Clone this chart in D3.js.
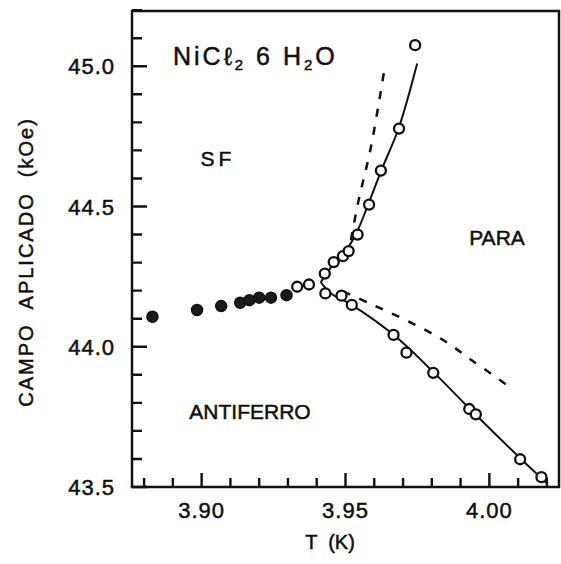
<!DOCTYPE html>
<meta charset="utf-8">
<style>
body { margin: 0; background: #fff; }
text { font-family: "Liberation Sans", Arial, sans-serif; fill: #111; stroke: #111; stroke-width: 0.5px; }
.tick-label { font-size: 22px; letter-spacing: 1px; }
.ticks { fill: none; stroke: #111; stroke-width: 2.4; }
.solid { fill: none; stroke: #111; stroke-width: 2; }
.dash { fill: none; stroke: #111; stroke-width: 2.5; stroke-dasharray: 8,10; }
.open { fill: #fff; stroke: #111; stroke-width: 2.3; }
.filled { fill: #1a1a1a; stroke: #111; stroke-width: 1.5; }
.lab { font-size: 21px; }
</style>
<body>
<svg width="561" height="564"></svg>
<script src="https://d3js.org/d3.v7.min.js"></script>
<script>

// filled points (low T, horizontal part)
var filledT = [3.8829, 3.8984, 3.9068, 3.9134, 3.9166, 3.9200, 3.9241, 3.9295];
var filledH = [44.107, 44.131, 44.145, 44.157, 44.166, 44.175, 44.175, 44.184];

// open points, SF / PARA boundary
var upperT = [3.9332, 3.9373, 3.9428, 3.9459, 3.9491, 3.9511, 3.9542, 3.9582, 3.9623, 3.9686, 3.9742];
var upperH = [44.214, 44.222, 44.261, 44.302, 44.323, 44.341, 44.400, 44.507, 44.628, 44.778, 45.075];

// open points, ANTIFERRO / PARA boundary
var lowerT = [3.9430, 3.9486, 3.9522, 3.9667, 3.9712, 3.9805, 3.9930, 3.9953, 4.0107, 4.0181];
var lowerH = [44.190, 44.182, 44.149, 44.042, 43.979, 43.907, 43.778, 43.759, 43.599, 43.535];

// fitted solid curves
var fitUpT = [3.9414, 3.9455, 3.9500, 3.9540, 3.9580, 3.9625, 3.9685, 3.9749];
var fitUpH = [44.230, 44.290, 44.340, 44.410, 44.510, 44.630, 44.780, 45.010];
var fitLoT = [3.9414, 3.9450, 3.9520, 3.9670, 3.9810, 3.9950, 4.0110, 4.0199];
var fitLoH = [44.230, 44.190, 44.150, 44.040, 43.905, 43.760, 43.600, 43.514];

// dashed (theory) curves
var dashUpT = [3.9519, 3.9543, 3.9588, 3.9633];
var dashUpH = [44.380, 44.510, 44.710, 44.975];
var dashLoT = [3.9491, 3.9595, 3.9710, 3.9839, 3.9947, 4.0076];
var dashLoH = [44.198, 44.149, 44.095, 44.024, 43.946, 43.853];

var xMajor = [3.90, 3.95, 4.00];
var yMajor = [43.5, 44.0, 44.5, 45.0];

var svg = d3.select("svg"),
    mLeft = 132, mRight = 559, mTop = 11, mBottom = 487;

var x = d3.scaleLinear().domain([3.8758, 4.0242]).range([mLeft, mRight]);
var y = d3.scaleLinear().domain([43.5, 45.197]).range([mBottom, mTop]);

function pairs(a, b) { return a.map(function(d, i) { return [d, b[i]]; }); }

var xTicks = d3.range(3.88, 4.025, 0.01).map(function(d) { return +d.toFixed(2); });
var yTicks = d3.range(43.5, 45.25, 0.1).map(function(d) { return +d.toFixed(1); });
function isMajor(list, v) { return list.some(function(m) { return Math.abs(m - v) < 1e-6; }); }

// frame
svg.append("rect")
    .attr("x", mLeft).attr("y", mTop)
    .attr("width", mRight - mLeft).attr("height", mBottom - mTop)
    .attr("fill", "none").attr("stroke", "#111").attr("stroke-width", 2.5);

// inward ticks
var p = d3.path();
xTicks.forEach(function(d) {
  p.moveTo(x(d), mBottom);
  p.lineTo(x(d), mBottom - (isMajor(xMajor, d) ? 14 : 9));
});
yTicks.forEach(function(d) {
  p.moveTo(mLeft, y(d));
  p.lineTo(mLeft + (isMajor(yMajor, d) ? 15 : 10), y(d));
});
svg.append("path").attr("class", "ticks").attr("d", p.toString());

svg.selectAll(".xl")
    .data(xMajor)
  .enter().append("text")
    .attr("class", "tick-label")
    .attr("x", function(d) { return x(d); })
    .attr("y", mBottom + 31)
    .attr("text-anchor", "middle")
    .text(d3.format(".2f"));

svg.selectAll(".yl")
    .data(yMajor)
  .enter().append("text")
    .attr("class", "tick-label")
    .attr("x", mLeft - 17)
    .attr("y", function(d) { return y(d) + 8; })
    .attr("text-anchor", "end")
    .text(d3.format(".1f"));

var line = d3.line()
    .x(function(d) { return x(d[0]); })
    .y(function(d) { return y(d[1]); })
    .curve(d3.curveCatmullRom);

svg.append("path").attr("class", "solid").attr("d", line(pairs(fitUpT, fitUpH)));
svg.append("path").attr("class", "solid").attr("d", line(pairs(fitLoT, fitLoH)));
svg.append("path").attr("class", "dash").attr("d", line(pairs(dashUpT, dashUpH)));
svg.append("path").attr("class", "dash").attr("d", line(pairs(dashLoT, dashLoH)));

svg.selectAll(".filled")
    .data(pairs(filledT, filledH))
  .enter().append("circle")
    .attr("class", "filled")
    .attr("cx", function(d) { return x(d[0]); })
    .attr("cy", function(d) { return y(d[1]); })
    .attr("r", 5.5);

svg.selectAll(".open")
    .data(pairs(upperT, upperH).concat(pairs(lowerT, lowerH)))
  .enter().append("circle")
    .attr("class", "open")
    .attr("cx", function(d) { return x(d[0]); })
    .attr("cy", function(d) { return y(d[1]); })
    .attr("r", 5);

// region labels
svg.append("text").attr("class", "lab").attr("x", 218).attr("y", 166)
    .attr("text-anchor", "middle").style("letter-spacing", "4px").text("SF");
svg.append("text").attr("class", "lab").attr("x", 497).attr("y", 245)
    .attr("text-anchor", "middle").text("PARA");
svg.append("text").attr("class", "lab").attr("x", 250).attr("y", 419)
    .attr("text-anchor", "middle").text("ANTIFERRO");

// compound
var t = svg.append("text").attr("x", 173).attr("y", 65)
    .style("font-size", "25px").style("letter-spacing", "3px");
t.append("tspan").text("NiCℓ");
t.append("tspan").attr("dy", 5).style("font-size", "15px").text("2");
t.append("tspan").attr("dy", -5).text(" 6 H");
t.append("tspan").attr("dy", 5).style("font-size", "15px").text("2");
t.append("tspan").attr("dy", -5).text("O");

// axis titles
svg.append("text").attr("x", 330).attr("y", 549)
    .attr("text-anchor", "middle").style("font-size", "20px")
    .style("white-space", "pre").text("T  (K)");

svg.append("text")
    .attr("transform", "translate(33,262) rotate(-90)")
    .attr("text-anchor", "middle").style("font-size", "20px")
    .style("letter-spacing", "2px").style("white-space", "pre")
    .text("CAMPO  APLICADO  (kOe)");

</script>
</body>
